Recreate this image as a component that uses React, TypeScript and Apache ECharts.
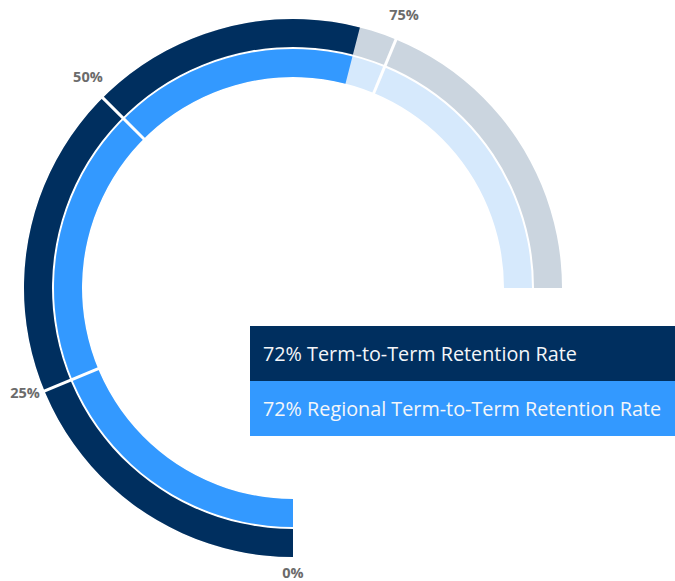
import { useEffect, useRef } from 'react';
import * as echarts from 'echarts';

// ---- data ----
const seriesNames = ['Term-to-Term Retention Rate', 'Regional Term-to-Term Retention Rate'];
const seriesValues = [72, 72];
const tickValues = [0, 25, 50, 75];
const tickLabels = ['0%', '25%', '50%', '75%'];
const dividerTicks = [25, 50, 75];
const axisMin = 0;
const axisMax = 100;

// ---- layout / style ----
const START_ANGLE = 270;
const SWEEP = 270;
const CX = 293;
const CY = 288;
const RING_WIDTH = 28;
const ringRadii = [269, 239];
const ringColors = ['#002f5f', '#3399ff'];
const ringBgColors = ['#cbd5df', '#d6e9fc'];
const LABEL_R = 290;
const LABEL_DY = -6;

const angleOf = (v: number) => START_ANGLE - ((v - axisMin) / (axisMax - axisMin)) * SWEEP;

export default function App() {
  const ref = useRef<HTMLDivElement>(null);

  useEffect(() => {
    if (!ref.current) return;
    const chart = echarts.init(ref.current, null, { renderer: 'svg' });

    const ringSeries = seriesValues.map((v, i) => ({
      type: 'gauge',
      name: seriesNames[i],
      center: [CX, CY],
      radius: ringRadii[i],
      startAngle: START_ANGLE,
      endAngle: START_ANGLE - SWEEP,
      clockwise: true,
      min: axisMin,
      max: axisMax,
      axisLine: { show: true, roundCap: false, lineStyle: { width: RING_WIDTH, color: [[1, ringBgColors[i]]] } },
      progress: { show: true, width: RING_WIDTH, roundCap: false, itemStyle: { color: ringColors[i] } },
      pointer: { show: false },
      anchor: { show: false },
      axisTick: { show: false },
      splitLine: { show: false },
      axisLabel: { show: false },
      title: { show: false },
      detail: { show: false },
      data: [{ value: v, name: seriesNames[i] }],
      z: 2,
    }));

    const dMin = dividerTicks[0];
    const dMax = dividerTicks[dividerTicks.length - 1];
    const spanWidth = ringRadii[0] - ringRadii[ringRadii.length - 1] + RING_WIDTH;
    const dividerSeries = {
      type: 'gauge',
      center: [CX, CY],
      radius: ringRadii[0] + 1,
      startAngle: angleOf(dMin),
      endAngle: angleOf(dMax),
      clockwise: true,
      min: dMin,
      max: dMax,
      splitNumber: dividerTicks.length - 1,
      axisLine: { show: false, lineStyle: { width: spanWidth + 2 } },
      progress: { show: false },
      pointer: { show: false },
      anchor: { show: false },
      axisTick: { show: false },
      splitLine: { show: true, distance: -(spanWidth + 2), length: spanWidth + 2, lineStyle: { color: '#ffffff', width: 3 } },
      axisLabel: { show: false },
      title: { show: false },
      detail: { show: false },
      data: [{ value: dMin }],
      z: 5,
    };

    const labelGraphics = tickValues.map((t, i) => {
      const a = (angleOf(t) * Math.PI) / 180;
      return {
        type: 'text',
        x: CX + LABEL_R * Math.cos(a),
        y: CY + LABEL_DY - LABEL_R * Math.sin(a),
        z: 10,
        style: {
          text: tickLabels[i],
          align: 'center',
          verticalAlign: 'middle',
          fill: '#6b6b6b',
          font: 'bold 14.5px "Open Sans", sans-serif',
        },
      };
    });

    const legendX = 250;
    const legendY = 326;
    const rowH = 55;
    const legendGraphics: any[] = [];
    seriesValues.forEach((v, i) => {
      legendGraphics.push({
        type: 'rect',
        shape: { x: legendX, y: legendY + i * rowH, width: 675 - legendX, height: rowH },
        style: { fill: ringColors[i] },
        z: 20,
      });
      legendGraphics.push({
        type: 'text',
        x: legendX + 13,
        y: legendY + i * rowH + rowH / 2,
        z: 21,
        style: {
          text: `${v}% ${seriesNames[i]}`,
          align: 'left',
          verticalAlign: 'middle',
          fill: '#f4f6f9',
          font: '19.8px "Open Sans", sans-serif',
        },
      });
    });

    chart.setOption({
      animation: false,
      backgroundColor: '#ffffff',
      series: [...ringSeries, dividerSeries],
      graphic: { elements: [...labelGraphics, ...legendGraphics] },
    });

    return () => chart.dispose();
  }, []);

  return (
    <div
      ref={ref}
      style={{ position: 'absolute', left: 0, top: 0, width: 675, height: 581 }}
    />
  );
}
